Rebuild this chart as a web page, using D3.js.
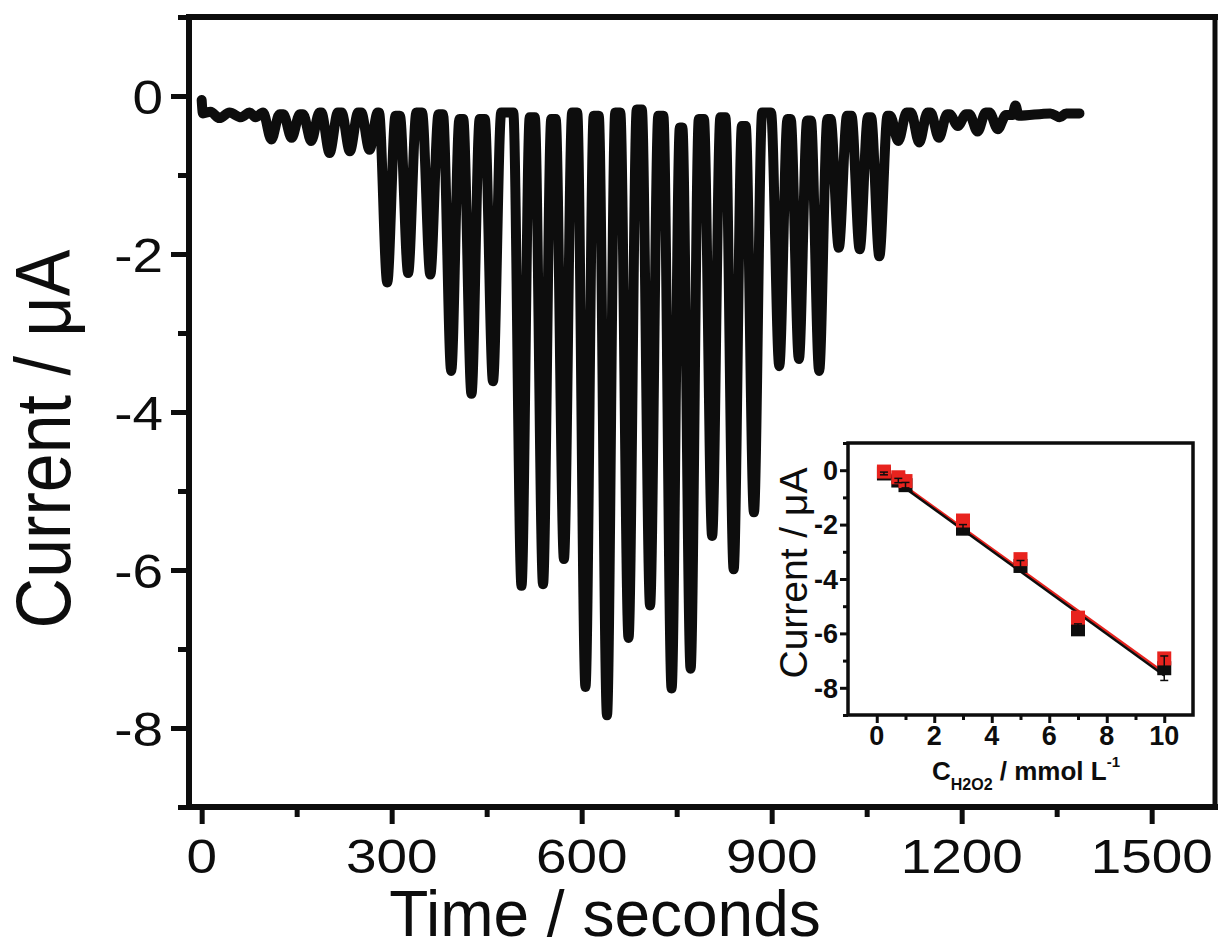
<!DOCTYPE html>
<html lang="en">
<head>
<meta charset="UTF-8">
<title>Amperometric response</title>
<script src="https://cdn.jsdelivr.net/npm/d3@7"></script>
<style>
    * { margin: 0; padding: 0 }
    body { background: #fff; }
    svg { display: block; font-family: "Liberation Sans", Arial, sans-serif; }
</style>
</head>
<body>
<svg id="chart" width="1218" height="952"></svg>
<script>
    // turning points of the current trace (s, µA)
    const traceTime = [
        0, 2, 14, 28, 44, 62, 76, 85, 97,
        110, 123, 129, 142, 155, 160, 173, 186, 189,
        202, 215, 221, 234, 247, 252, 265, 278, 280,
        293, 306, 313, 326, 339, 348, 361, 374, 381,
        394, 407, 413, 426, 439, 447, 460, 473, 492,
        505, 518, 526, 539, 552, 559, 572, 585, 593,
        606, 619, 627, 640, 653, 661, 674, 687, 695,
        708, 721, 729, 742, 755, 759, 772, 785, 793,
        806, 819, 827, 840, 853, 859, 872, 885, 899,
        912, 925, 930, 943, 956, 962, 975, 988, 993,
        1006, 1019, 1026, 1039, 1052, 1057, 1070, 1083, 1087,
        1100, 1113, 1120, 1133, 1146, 1151, 1164, 1177, 1181,
        1194, 1207, 1212, 1225, 1238, 1244, 1257, 1270,
        1280, 1285, 1290, 1340, 1355, 1365, 1386
    ];
    const traceCurrent = [
        -0.05, -0.22, -0.20, -0.28, -0.21, -0.27, -0.21, -0.27, -0.21,
        -0.55, -0.23, -0.23, -0.53, -0.23, -0.23, -0.57, -0.21, -0.21,
        -0.72, -0.21, -0.21, -0.70, -0.21, -0.21, -0.68, -0.21, -0.21,
        -2.36, -0.25, -0.25, -2.24, -0.21, -0.21, -2.26, -0.23, -0.23,
        -3.48, -0.29, -0.29, -3.77, -0.29, -0.29, -3.61, -0.21, -0.21,
        -6.20, -0.27, -0.27, -6.18, -0.29, -0.29, -5.86, -0.21, -0.21,
        -7.48, -0.25, -0.25, -7.84, -0.21, -0.21, -6.86, -0.17, -0.17,
        -6.45, -0.25, -0.25, -7.50, -0.40, -0.40, -7.25, -0.29, -0.29,
        -5.57, -0.27, -0.27, -5.99, -0.38, -0.38, -5.27, -0.21, -0.21,
        -3.42, -0.29, -0.29, -3.33, -0.31, -0.31, -3.48, -0.29, -0.29,
        -1.92, -0.25, -0.25, -1.94, -0.27, -0.27, -2.03, -0.25, -0.25,
        -0.57, -0.21, -0.21, -0.59, -0.21, -0.21, -0.53, -0.23, -0.23,
        -0.38, -0.23, -0.23, -0.45, -0.21, -0.21, -0.42, -0.24,
        -0.24, -0.12, -0.25, -0.22, -0.27, -0.22, -0.22
    ];

    // inset: calibration points
    const concentration = [0.25, 0.75, 1, 3, 5, 7, 10];
    const currentBlack = [-0.12, -0.38, -0.55, -2.15, -3.52, -5.85, -7.28];
    const currentRed = [-0.05, -0.26, -0.40, -1.85, -3.27, -5.42, -6.92];
    const errorBlack = [0.05, 0.08, 0.1, 0.15, 0.2, 0.2, 0.45];
    const fitConc = [0.1, 10];
    const fitBlack = [0.02, -7.55];
    const fitRed = [0.08, -7.45];

    const xTicks = [0, 300, 600, 900, 1200, 1500];
    const xMinor = [150, 450, 750, 1050, 1350];
    const yTicks = [0, -2, -4, -6, -8];
    const yMinor = [1, -1, -3, -5, -7, -9];
    const insetXTicks = [0, 2, 4, 6, 8, 10];
    const insetXMinor = [1, 3, 5, 7, 9];
    const insetYTicks = [0, -2, -4, -6, -8];
    const insetYMinor = [1, -1, -3, -5, -7, -9];

    const ink = '#0d0d0d';
    const red = '#e8231e';
    const svg = d3.select('#chart');

    // ---------- main plot ----------
    const x = d3.scaleLinear().domain([-20, 1600]).range([189, 1215]);
    const y = d3.scaleLinear().domain([-9, 1]).range([807, 17]);

    function tickAxis(axis, g, width) {
        g.call(axis);
        g.select('.domain').remove();
        g.selectAll('line').attr('stroke', ink).attr('stroke-width', width);
    }

    tickAxis(d3.axisBottom(x).tickValues(xTicks).tickSize(17).tickFormat(''),
        svg.append('g').attr('transform', 'translate(0,807)'), 5);
    tickAxis(d3.axisBottom(x).tickValues(xMinor).tickSize(10).tickFormat(''),
        svg.append('g').attr('transform', 'translate(0,807)'), 5);
    tickAxis(d3.axisLeft(y).tickValues(yTicks).tickSize(18).tickFormat(''),
        svg.append('g').attr('transform', 'translate(189,0)'), 5);
    tickAxis(d3.axisLeft(y).tickValues(yMinor).tickSize(11).tickFormat(''),
        svg.append('g').attr('transform', 'translate(189,0)'), 5);

    // frame
    const frame = svg.append('g').attr('stroke', ink).attr('stroke-linecap', 'square');
    frame.append('line').attr('x1', 189).attr('x2', 1215).attr('y1', 17).attr('y2', 17).attr('stroke-width', 6);
    frame.append('line').attr('x1', 189).attr('x2', 1215).attr('y1', 807).attr('y2', 807).attr('stroke-width', 6);
    frame.append('line').attr('x1', 189).attr('x2', 189).attr('y1', 17).attr('y2', 807).attr('stroke-width', 6);
    frame.append('line').attr('x1', 1215).attr('x2', 1215).attr('y1', 17).attr('y2', 807).attr('stroke-width', 5);

    // tick labels (the figure's lettering is a little wide)
    svg.append('g').selectAll('text').data(xTicks).join('text')
        .attr('transform', d => `translate(${x(d)},873) scale(1.12,1)`)
        .attr('text-anchor', 'middle')
        .style('font-size', '49px').attr('fill', ink)
        .text(d => d);
    svg.append('g').selectAll('text').data(yTicks).join('text')
        .attr('transform', d => `translate(163,${y(d)}) scale(1.12,1)`)
        .attr('text-anchor', 'end').attr('dy', '0.36em')
        .style('font-size', '49px').attr('fill', ink)
        .text(d => d);

    // axis titles
    svg.append('text')
        .attr('transform', 'translate(70,439) rotate(-90) scale(1,1.1)')
        .attr('text-anchor', 'middle')
        .style('font-size', '70px').attr('fill', ink)
        .text('Current / μA');
    svg.append('text')
        .attr('x', 605).attr('y', 936)
        .attr('text-anchor', 'middle')
        .style('font-size', '64px').attr('fill', ink)
        .text('Time / seconds');

    // trace
    const trace = traceTime.map((t, i) => [t, traceCurrent[i]]);
    const line = d3.line()
        .x(d => x(d[0]))
        .y(d => y(d[1]))
        .curve(d3.curveMonotoneX);
    svg.append('path')
        .attr('d', line(trace))
        .attr('fill', 'none')
        .attr('stroke', ink)
        .attr('stroke-width', 10)
        .attr('stroke-linejoin', 'round')
        .attr('stroke-linecap', 'round');

    // ---------- inset ----------
    const xi = d3.scaleLinear().domain([-1, 11]).range([848, 1193]);
    const yi = d3.scaleLinear().domain([-9, 1]).range([715, 443]);
    const inset = svg.append('g');

    inset.append('rect')
        .attr('x', 848).attr('y', 443).attr('width', 345).attr('height', 272)
        .attr('fill', '#fff').attr('stroke', ink).attr('stroke-width', 3.5);

    tickAxis(d3.axisBottom(xi).tickValues(insetXTicks).tickSize(8).tickFormat(''),
        inset.append('g').attr('transform', 'translate(0,715)'), 3);
    tickAxis(d3.axisBottom(xi).tickValues(insetXMinor).tickSize(5).tickFormat(''),
        inset.append('g').attr('transform', 'translate(0,715)'), 3);
    tickAxis(d3.axisLeft(yi).tickValues(insetYTicks).tickSize(8).tickFormat(''),
        inset.append('g').attr('transform', 'translate(848,0)'), 3);
    tickAxis(d3.axisLeft(yi).tickValues(insetYMinor).tickSize(5).tickFormat(''),
        inset.append('g').attr('transform', 'translate(848,0)'), 3);

    inset.append('g').selectAll('text').data(insetXTicks).join('text')
        .attr('x', d => xi(d)).attr('y', 745)
        .attr('text-anchor', 'middle')
        .style('font-size', '27px').style('font-weight', 'bold').attr('fill', ink)
        .text(d => d);
    inset.append('g').selectAll('text').data(insetYTicks).join('text')
        .attr('x', 838).attr('y', d => yi(d)).attr('dy', '0.36em')
        .attr('text-anchor', 'end')
        .style('font-size', '27px').style('font-weight', 'bold').attr('fill', ink)
        .text(d => d);

    inset.append('text')
        .attr('transform', 'translate(807,573) rotate(-90)')
        .attr('text-anchor', 'middle')
        .style('font-size', '39px').attr('fill', ink)
        .text('Current / μA');

    const xt = inset.append('text')
        .attr('x', 932).attr('y', 780)
        .style('font-size', '26px').style('font-weight', 'bold').attr('fill', ink);
    xt.append('tspan').text('C');
    xt.append('tspan').attr('dy', 10).style('font-size', '16px').text('H2O2');
    xt.append('tspan').attr('dy', -10).text(' / mmol L');
    xt.append('tspan').attr('dy', -13).style('font-size', '15px').text('-1');

    // fit lines
    const fitLine = d3.line().x(d => xi(d[0])).y(d => yi(d[1]));
    inset.append('path')
        .attr('d', fitLine(fitConc.map((c, i) => [c, fitRed[i]])))
        .attr('stroke', red).attr('stroke-width', 2.5).attr('fill', 'none');
    inset.append('path')
        .attr('d', fitLine(fitConc.map((c, i) => [c, fitBlack[i]])))
        .attr('stroke', ink).attr('stroke-width', 2.5).attr('fill', 'none');

    // points
    const sq = 14;
    inset.append('g').selectAll('rect').data(concentration).join('rect')
        .attr('x', (d) => xi(d) - sq / 2)
        .attr('y', (d, i) => yi(currentBlack[i]) - sq / 2)
        .attr('width', sq).attr('height', sq).attr('fill', ink);
    inset.append('g').selectAll('rect').data(concentration).join('rect')
        .attr('x', (d) => xi(d) - sq / 2)
        .attr('y', (d, i) => yi(currentRed[i]) - sq / 2)
        .attr('width', sq).attr('height', sq).attr('fill', red);

    // error bars of the black series
    const eb = inset.append('g').attr('stroke', ink).attr('stroke-width', 1.5);
    concentration.forEach((c, i) => {
        const top = yi(currentBlack[i] + errorBlack[i]);
        const bot = yi(currentBlack[i] - errorBlack[i]);
        eb.append('line').attr('x1', xi(c)).attr('x2', xi(c)).attr('y1', top).attr('y2', bot);
        eb.append('line').attr('x1', xi(c) - 4).attr('x2', xi(c) + 4).attr('y1', top).attr('y2', top);
        eb.append('line').attr('x1', xi(c) - 4).attr('x2', xi(c) + 4).attr('y1', bot).attr('y2', bot);
    });
</script>
</body>
</html>
